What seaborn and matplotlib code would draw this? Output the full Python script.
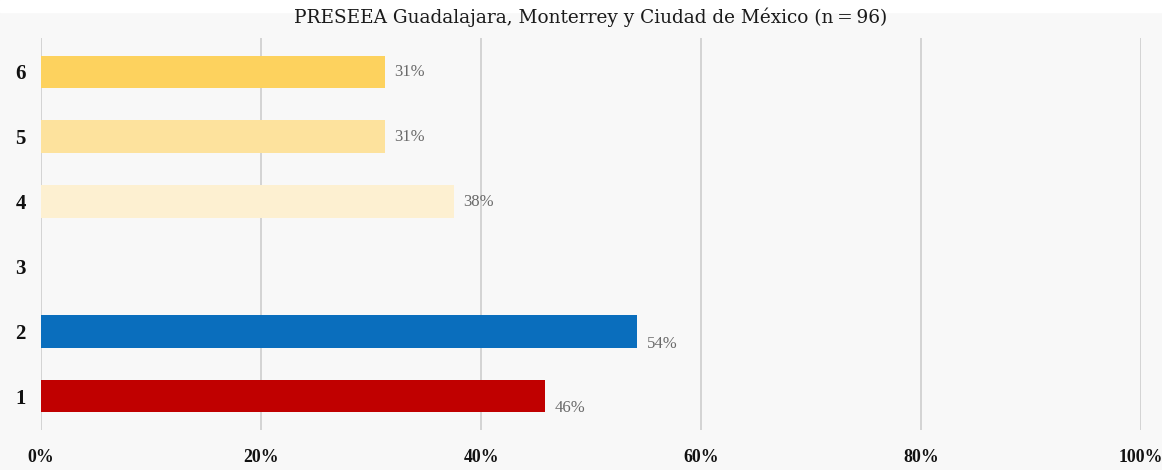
import matplotlib
matplotlib.use("Agg")
import matplotlib.pyplot as plt
from matplotlib.ticker import PercentFormatter
import seaborn as sns
import pandas as pd

# Response counts over n = 96 speakers, shown as percentages
categories = ["6", "5", "4", "3", "2", "1"]
percentages = [31.25, 31.25, 37.5, 0.0, 54.17, 45.83]
value_labels = ["31%", "31%", "38%", "", "54%", "46%"]
bar_colors = ["#fdd25e", "#fde29d", "#fdf0d1", "#f8f8f8", "#0a6ebd", "#c00000"]
x_ticks = [0, 20, 40, 60, 80, 100]
title = "PRESEEA Guadalajara, Monterrey y Ciudad de México (n\u2009=\u200996)"

df = pd.DataFrame({"cat": categories, "pct": percentages})

sns.set_theme(style="white")
plt.rcParams["font.family"] = ["Liberation Serif", "DejaVu Serif"]

bg = "#f8f8f8"
fig = plt.figure(figsize=(11.62, 4.70), dpi=100, facecolor=bg)
ax = fig.add_axes([41 / 1162, 1 - 430 / 470, 1100 / 1162, 392 / 470])
ax.set_facecolor(bg)

# white strip behind the title
fig.patches.append(plt.Rectangle((0, 1 - 12 / 470), 1, 12 / 470,
                                 transform=fig.transFigure, color="white", zorder=0))

sns.barplot(data=df, x="pct", y="cat", hue="cat", order=categories,
            palette=dict(zip(categories, bar_colors)), legend=False,
            width=0.5, orient="h", saturation=1, linewidth=0, ax=ax, zorder=3)

ax.set_xlim(0, 100)
ax.set_ylim(5.52, -0.52)
ax.set_xticks(x_ticks)
ax.xaxis.set_major_formatter(PercentFormatter(decimals=0))
ax.grid(axis="x", color="#d4d4d4", linewidth=1.4, zorder=0)
ax.set_axisbelow(True)
for s in ax.spines.values():
    s.set_visible(False)
ax.tick_params(axis="both", length=0)
ax.tick_params(axis="x", pad=14)
ax.tick_params(axis="y", pad=11)
for lab in ax.get_xticklabels():
    lab.set_fontweight("bold")
    lab.set_fontsize(12.8)
    lab.set_color("#111111")
for lab in ax.get_yticklabels():
    lab.set_fontweight("bold")
    lab.set_fontsize(15)
    lab.set_color("#111111")
ax.set_xlabel("")
ax.set_ylabel("")

# value labels; the two lower bars carry their labels slightly below centre
label_dy = [0, 0, 0, 0, 0.2, 0.18]
for i, (v, t) in enumerate(zip(percentages, value_labels)):
    if not t:
        continue
    ax.text(v + 0.9, i + label_dy[i], t, va="center", ha="left",
            fontsize=12, color="#6a6a6a")

fig.text(0.508, 1 - 17 / 470, title, ha="center", va="center",
         fontsize=13.3, color="#1a1a1a", family=["DejaVu Serif"])

fig.savefig("out.png", dpi=100, facecolor=bg)
